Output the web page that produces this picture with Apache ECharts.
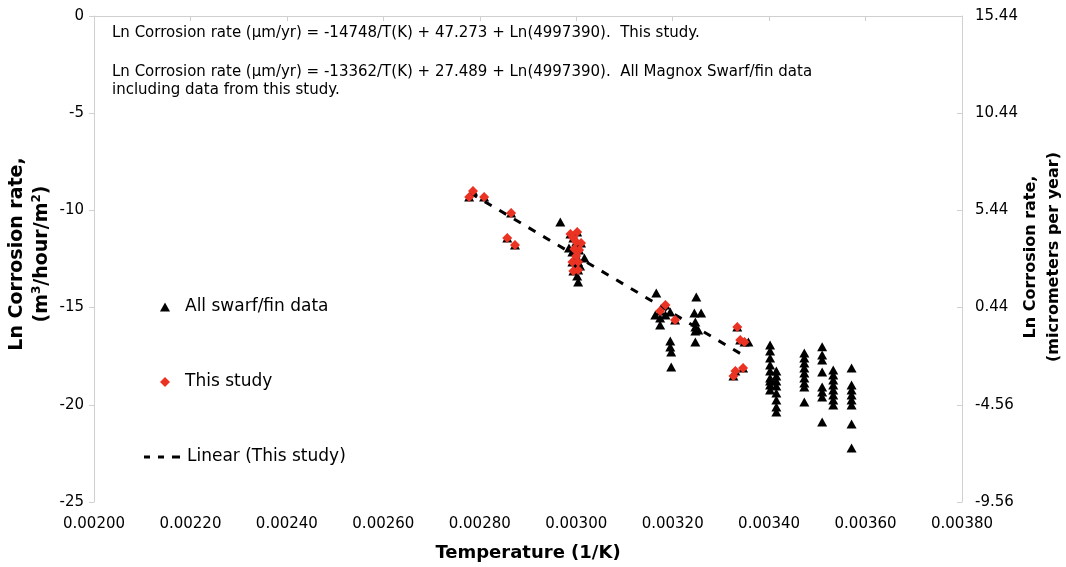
<!DOCTYPE html>
<html>
<head>
<meta charset="utf-8">
<script src="https://cdn.jsdelivr.net/npm/echarts@6/dist/echarts.min.js"></script>
<style>
html,body{margin:0;padding:0;background:#fff;}
#chart{width:1066px;height:567px;}
</style>
</head>
<body>
<div id="chart"></div>
<script>
// ---- data ----
var xTicks = {min: 0.002, max: 0.0038, interval: 0.0002};
var yLeftTicks = {min: -25, max: 0, interval: 5};
var yRightTicks = {min: -9.56, max: 15.44, interval: 5};

// This study (red diamonds): [1/T, Ln rate]
var thisStudyX = [0.002778, 0.002786, 0.002809, 0.002865, 0.002857, 0.002873,
  0.002988, 0.003002, 0.002994, 0.003000, 0.003010, 0.002996, 0.003006, 0.003000,
  0.002992, 0.003004, 0.002994, 0.003004,
  0.003174, 0.003185, 0.003205,
  0.003334, 0.003340, 0.003349, 0.003346, 0.003330, 0.003326];
var thisStudyY = [-9.31, -9.00, -9.31, -10.13, -11.42, -11.78,
  -11.21, -11.11, -11.42, -11.63, -11.68, -11.99, -12.04, -12.35,
  -12.65, -12.65, -13.12, -13.07,
  -15.17, -14.87, -15.64,
  -16.00, -16.67, -16.77, -18.11, -18.26, -18.52];

// Other swarf/fin data (black triangles, in addition to this study's points)
var otherX = [0.002967,
  0.002985, 0.002992, 0.003017, 0.003008, 0.003002, 0.003004, 0.002998,
  0.003166, 0.003164, 0.003174, 0.003174, 0.003185, 0.003195,
  0.003195, 0.003195, 0.003197, 0.003197,
  0.003249, 0.003245, 0.003259, 0.003247, 0.003247, 0.003247, 0.003247, 0.003253,
  0.003357,
  0.003402, 0.003402, 0.003402, 0.003402, 0.003402, 0.003402, 0.003402, 0.003402, 0.003402,
  0.003415, 0.003415, 0.003415, 0.003415, 0.003415, 0.003415, 0.003415, 0.003415,
  0.003473, 0.003473, 0.003473, 0.003473, 0.003473, 0.003473, 0.003473, 0.003473, 0.003473,
  0.003510, 0.003510, 0.003510, 0.003510, 0.003510, 0.003510, 0.003510, 0.003510,
  0.003533, 0.003533, 0.003533, 0.003533, 0.003533, 0.003533, 0.003533, 0.003533,
  0.003571, 0.003571, 0.003571, 0.003571, 0.003571, 0.003571, 0.003571, 0.003571];
var otherY = [-10.60,
  -11.93, -12.14, -12.45, -12.86, -13.37, -13.68, -12.96,
  -14.25, -15.38, -15.53, -15.89, -15.38, -15.23,
  -16.72, -17.03, -17.28, -18.06,
  -14.45, -15.28, -15.28, -15.74, -16.00, -16.20, -16.77, -16.15,
  -16.77,
  -16.92, -17.23, -17.59, -17.95, -18.26, -18.62, -18.78, -18.98, -19.24,
  -18.26, -18.52, -18.78, -19.03, -19.39, -19.75, -20.11, -20.37,
  -17.34, -17.59, -17.85, -18.11, -18.36, -18.62, -18.88, -19.08, -19.86,
  -17.01, -17.44, -17.70, -18.31, -19.08, -19.34, -19.60, -20.88,
  -18.21, -18.47, -18.72, -18.98, -19.24, -19.50, -19.75, -20.01,
  -18.11, -18.98, -19.24, -19.50, -19.75, -20.01, -20.99, -22.22];

// Linear trend (This study) end points
var trendX = [0.00278, 0.003344];
var trendY = [-9.10, -17.42];

var seriesNames = ['All swarf/fin data', 'This study', 'Linear (This study)'];
var noteLines = [
  'Ln Corrosion rate (\u00b5m/yr) = -14748/T(K) + 47.273 + Ln(4997390).  This study.',
  'Ln Corrosion rate (\u00b5m/yr) = -13362/T(K) + 27.489 + Ln(4997390).  All Magnox Swarf/fin data',
  'including data from this study.'
];
var xTitle = 'Temperature (1/K)';

// ---- build ----
function zip(xs, ys) { return xs.map(function (x, i) { return [x, ys[i]]; }); }
var allData = zip(thisStudyX, thisStudyY).concat(zip(otherX, otherY));

var FONT = 'DejaVu Sans';
var AXIS_COLOR = '#d0d0d0';
var legendText = {fontFamily: FONT, fontSize: 17, color: '#000', lineHeight: 20};

var chart = echarts.init(document.getElementById('chart'), null, {renderer: 'canvas'});
var option = {
  animation: false,
  backgroundColor: '#ffffff',
  grid: {left: 94, right: 104, top: 16, bottom: 65, containLabel: false},
  xAxis: {
    type: 'value', min: xTicks.min, max: xTicks.max, interval: xTicks.interval,
    splitLine: {show: false},
    axisLine: {show: true, lineStyle: {color: AXIS_COLOR, width: 1}},
    axisTick: {show: true, length: 5, lineStyle: {color: AXIS_COLOR}},
    axisLabel: {margin: 15, fontFamily: FONT, fontSize: 15, color: '#000',
      formatter: function (v) { return v.toFixed(5); }},
    name: xTitle, nameLocation: 'middle', nameGap: 42,
    nameTextStyle: {fontFamily: FONT, fontSize: 18, fontWeight: 'bold', color: '#000'}
  },
  yAxis: [{
    type: 'value', position: 'left', min: yLeftTicks.min, max: yLeftTicks.max, interval: yLeftTicks.interval,
    splitLine: {show: false},
    axisLine: {show: true, lineStyle: {color: AXIS_COLOR, width: 1}},
    axisTick: {show: true, length: 5, lineStyle: {color: AXIS_COLOR}},
    axisLabel: {margin: 10, fontFamily: FONT, fontSize: 15, color: '#000'}
  }, {
    type: 'value', position: 'right', min: yRightTicks.min, max: yRightTicks.max, interval: yRightTicks.interval,
    splitLine: {show: false},
    axisLine: {show: true, lineStyle: {color: AXIS_COLOR, width: 1}},
    axisTick: {show: true, inside: true, length: 5, lineStyle: {color: AXIS_COLOR}},
    axisLabel: {margin: 13, fontFamily: FONT, fontSize: 15, color: '#000',
      formatter: function (v) { return v.toFixed(2); }}
  }],
  legend: [{
    left: 155, top: 292, orient: 'vertical', itemWidth: 10, itemHeight: 9,
    data: [seriesNames[0]], selectedMode: false,
    textStyle: Object.assign({padding: [0, 0, 0, 10]}, legendText)
  }, {
    left: 155, top: 367, orient: 'vertical', itemWidth: 10, itemHeight: 10,
    data: [seriesNames[1]], selectedMode: false,
    textStyle: Object.assign({padding: [0, 0, 0, 10]}, legendText)
  }, {
    left: 139, top: 442, orient: 'vertical', itemWidth: 40, itemHeight: 3,
    data: [{name: seriesNames[2], icon: 'path://M0,0h6v3h-6z M14,0h6v3h-6z M28,0h8v3h-8z'}],
    selectedMode: false,
    itemStyle: {color: '#000'},
    textStyle: legendText
  }],
  series: [{
    name: seriesNames[2], type: 'line', data: zip(trendX, trendY),
    symbol: 'none', showSymbol: false, z: 1,
    lineStyle: {color: '#000', width: 3, type: [8, 9]},
    itemStyle: {color: '#000'}
  }, {
    name: seriesNames[0], type: 'scatter', data: allData,
    symbol: 'triangle', symbolSize: [10, 9], z: 2,
    itemStyle: {color: '#000', opacity: 1}
  }, {
    name: seriesNames[1], type: 'scatter', data: zip(thisStudyX, thisStudyY),
    symbol: 'diamond', symbolSize: [10, 10], z: 3,
    itemStyle: {color: '#ea3323', opacity: 1}
  }],
  graphic: [
    {type: 'text', x: 112, y: 33, style: {text: noteLines[0], fontFamily: FONT, fontSize: 15, fill: '#000', align: 'left', verticalAlign: 'middle'}},
    {type: 'text', x: 112, y: 72, style: {text: noteLines[1], fontFamily: FONT, fontSize: 15, fill: '#000', align: 'left', verticalAlign: 'middle'}},
    {type: 'text', x: 112, y: 90, style: {text: noteLines[2], fontFamily: FONT, fontSize: 15, fill: '#000', align: 'left', verticalAlign: 'middle'}},
    {type: 'text', x: 30, y: 254, rotation: Math.PI / 2, style: {
      text: '{b|Ln Corrosion rate,}\n{b|(m}{sup|3}{b|/hour/m}{sup|2}{b|)}',
      align: 'center', verticalAlign: 'middle',
      rich: {
        b: {fontFamily: FONT, fontSize: 19, fontWeight: 'bold', fill: '#000', lineHeight: 25},
        sup: {fontFamily: FONT, fontSize: 12, fontWeight: 'bold', fill: '#000', lineHeight: 14, verticalAlign: 'top', padding: [1, 0, 0, 0]}
      }
    }},
    {type: 'text', x: 1042, y: 257, rotation: Math.PI / 2, style: {
      text: '{b|Ln Corrosion rate,}\n{b|(micrometers per year)}',
      align: 'center', verticalAlign: 'middle',
      rich: {
        b: {fontFamily: FONT, fontSize: 16, fontWeight: 'bold', fill: '#000', lineHeight: 23}
      }
    }}
  ]
};
chart.setOption(option);
</script>
</body>
</html>
